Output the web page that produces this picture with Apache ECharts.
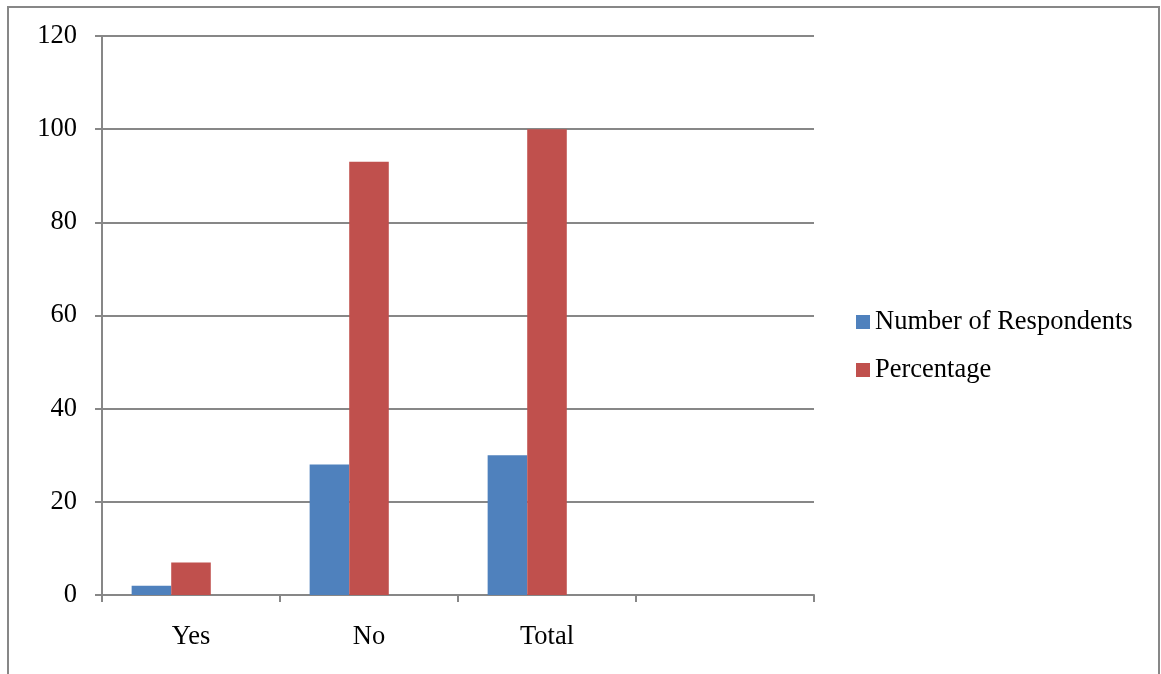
<!DOCTYPE html>
<html>
<head>
<meta charset="utf-8">
<script src="https://cdn.jsdelivr.net/npm/echarts@6/dist/echarts.min.js"></script>
<style>
  html, body { margin: 0; padding: 0; background: #fff; }
  #chart { width: 1161px; height: 674px; }
</style>
</head>
<body>
<div id="chart"></div>
<script>
// Survey responses
const categories = ['Yes', 'No', 'Total', ''];
const respondents = [2, 28, 30, null];
const percentage = [7, 93, 100, null];
const yTicks = { min: 0, max: 120, interval: 20 };

const FONT = "'Liberation Serif', 'Times New Roman', serif";
const GRAY = '#878787';
const FS = 26.5;

const chart = echarts.init(document.getElementById('chart'), null, { renderer: 'canvas' });

chart.setOption({
  animation: false,
  backgroundColor: '#ffffff',
  textStyle: { fontFamily: FONT },
  graphic: [{
    type: 'rect',
    shape: { x: 8, y: 7, width: 1151, height: 720 },
    style: { fill: 'none', stroke: GRAY, lineWidth: 2 },
    silent: true
  }],
  grid: { left: 102, right: 347, top: 36, bottom: 79, containLabel: false },
  legend: {
    orient: 'vertical',
    left: 856,
    top: 307,
    padding: 0,
    itemWidth: 14,
    itemHeight: 14,
    itemGap: 18,
    icon: 'rect',
    data: ['Number of Respondents', 'Percentage'],
    textStyle: { fontFamily: FONT, fontSize: FS, color: '#000', lineHeight: 26, padding: [4, 0, 0, 0] }
  },
  xAxis: {
    type: 'category',
    data: categories,
    boundaryGap: true,
    axisLine: { lineStyle: { color: GRAY, width: 2 } },
    axisTick: { show: true, length: 7, alignWithLabel: false, lineStyle: { color: GRAY, width: 2 } },
    axisLabel: { color: '#000', fontFamily: FONT, fontSize: FS, margin: 29, interval: 0 },
    splitLine: { show: false }
  },
  yAxis: {
    type: 'value',
    min: yTicks.min,
    max: yTicks.max,
    interval: yTicks.interval,
    axisLine: { show: true, lineStyle: { color: GRAY, width: 2 } },
    axisTick: { show: true, length: 7, lineStyle: { color: GRAY, width: 2 } },
    axisLabel: { color: '#000', fontFamily: FONT, fontSize: FS, margin: 25 },
    splitLine: { show: true, lineStyle: { color: GRAY, width: 2 } }
  },
  series: [
    {
      name: 'Number of Respondents',
      type: 'bar',
      data: respondents,
      barGap: '0%',
      barCategoryGap: '33.3%',
      itemStyle: { color: '#4F81BD' }
    },
    {
      name: 'Percentage',
      type: 'bar',
      data: percentage,
      itemStyle: { color: '#C0504D' }
    },
    {
      // empty third column slot in each group
      name: 'Series 3',
      type: 'bar',
      data: [],
      itemStyle: { color: '#9BBB59' }
    }
  ]
});
</script>
</body>
</html>
